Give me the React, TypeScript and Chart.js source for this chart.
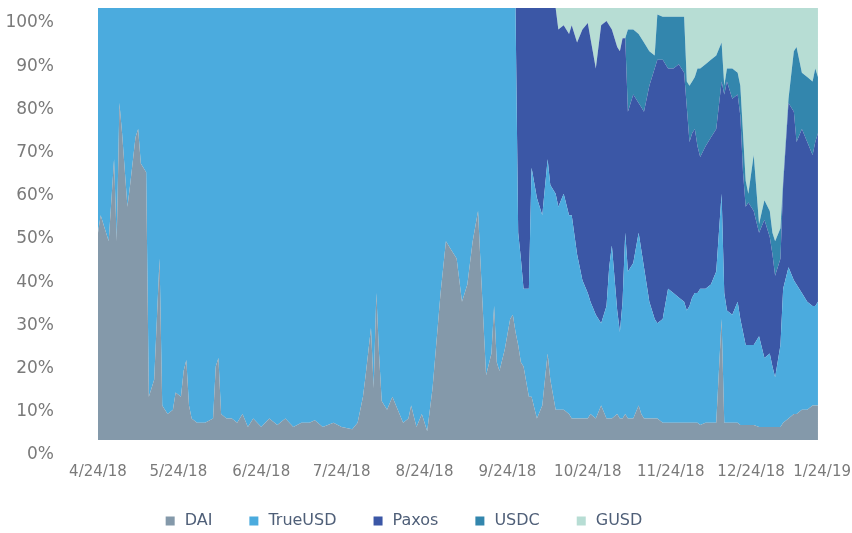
import React, { useEffect, useRef } from "react";
import { Chart, registerables } from "chart.js";

Chart.register(...registerables);

// Days since 4/24/18 for each sample
const dayOffsets = [
  0, 1, 2, 4, 6, 7, 8, 9, 11, 12,
  14, 15, 16, 18, 19, 20, 21, 22, 23, 24,
  26, 28, 29, 31, 32, 33, 34, 35, 37, 40,
  43, 44, 45, 46, 48, 50, 52, 54, 56, 58,
  61, 64, 67, 70, 73, 76, 79, 81, 84, 88,
  91, 95, 97, 99, 100, 102, 103, 104, 105, 106,
  108, 110, 112, 114, 116, 117, 119, 121, 123, 125,
  128, 130, 132, 134, 136, 138, 140, 142, 143, 145,
  147, 148, 149, 150, 152, 154, 155, 156,
  157, 158, 159, 161, 162, 164, 166, 168, 169, 171,
  172, 174, 176, 177, 179, 181, 183, 184, 186, 188,
  190, 191, 192, 194, 195, 196, 197, 198, 200, 202,
  203, 204, 206, 208, 209, 211, 213, 215, 217, 219,
  220, 221, 222, 223, 224, 225, 227, 229, 231, 233,
  234, 235, 237, 239, 240, 241, 242, 243, 245, 247,
  249, 251, 252, 253, 255, 256, 258, 260, 261, 263,
  265, 267, 268, 269,
];

// Share of each stablecoin (%)
const dai = [
  48, 52, 50, 46, 65, 46, 78, 71, 54, 59,
  70, 72, 64, 62, 10, 12, 14, 28, 42, 8,
  6, 7, 11, 10, 16, 18.5, 8, 5, 4, 4,
  5, 17, 19, 6, 5, 5, 4, 6, 3, 5,
  3, 5, 3.5, 5, 3, 4, 4, 4.6, 3, 4,
  3, 2.5, 4, 10, 15, 26, 12, 34, 20, 9,
  7, 10, 7, 4, 5, 8, 3, 6, 2, 12,
  34, 46, 44, 42, 32, 36, 46, 53, 40, 15,
  20, 31, 18, 16, 21, 28, 29, 25,
  22, 18, 17, 10, 10, 5, 8, 20, 14, 7,
  7, 7, 6, 5, 5, 5, 5, 6, 5, 8,
  5, 5, 5, 6, 5, 5, 6, 5, 5, 8,
  6, 5, 5, 5, 5, 4, 4, 4, 4, 4,
  4, 4, 4, 4, 4, 3.5, 4, 4, 4, 28,
  4, 4, 4, 4, 3.5, 3.5, 3.5, 3.5, 3.5, 3,
  3, 3, 3, 3, 3, 4, 5, 6, 6, 7,
  7, 8, 8, 8,
];

const trueUsd = [
  52, 48, 50, 54, 35, 54, 22, 29, 46, 41,
  30, 28, 36, 38, 90, 88, 86, 72, 58, 92,
  94, 93, 89, 90, 84, 81.5, 92, 95, 96, 96,
  95, 83, 81, 94, 95, 95, 96, 94, 97, 95,
  97, 95, 96.5, 95, 97, 96, 96, 95.4, 97, 96,
  97, 97.5, 96, 90, 85, 74, 88, 66, 80, 91,
  93, 90, 93, 96, 95, 92, 97, 94, 98, 88,
  66, 54, 56, 58, 68, 64, 54, 47, 60, 85,
  80, 69, 82, 84, 79, 72, 71, 75,
  26, 24, 18, 25, 53, 51, 44, 45, 45, 50,
  47, 50, 46, 47, 38, 32, 29, 26, 24, 19,
  26, 35, 40, 24, 20, 27, 42, 34, 36, 40,
  38, 35, 27, 23, 22, 24, 31, 30, 29, 28,
  26, 27, 29, 30, 30, 31.5, 31, 32, 35, 29,
  30, 26, 25, 28, 24.5, 21.5, 18.5, 18.5, 18.5, 21,
  16, 17, 14, 11.5, 19, 31, 35, 31, 30, 27,
  25, 23, 23, 24,
];

const paxos = [
  0, 0, 0, 0, 0, 0, 0, 0, 0, 0,
  0, 0, 0, 0, 0, 0, 0, 0, 0, 0,
  0, 0, 0, 0, 0, 0, 0, 0, 0, 0,
  0, 0, 0, 0, 0, 0, 0, 0, 0, 0,
  0, 0, 0, 0, 0, 0, 0, 0, 0, 0,
  0, 0, 0, 0, 0, 0, 0, 0, 0, 0,
  0, 0, 0, 0, 0, 0, 0, 0, 0, 0,
  0, 0, 0, 0, 0, 0, 0, 0, 0, 0,
  0, 0, 0, 0, 0, 0, 0, 0,
  52, 58, 65, 65, 37, 44, 48, 35, 41, 43,
  41, 39, 42, 44, 49, 58, 62.5, 61, 57, 69,
  66, 56, 50, 61, 65, 61, 45, 37, 39, 30,
  33, 36, 50, 58, 61, 60, 51, 52, 54, 53,
  47, 38, 38, 38, 34, 30.5, 33, 34, 33, 26,
  46, 53, 50, 48, 47, 37, 32, 33, 31, 24,
  32, 27, 26, 23.5, 20, 24, 38, 39, 33, 38,
  37, 35, 38, 39,
];

const usdc = [
  0, 0, 0, 0, 0, 0, 0, 0, 0, 0,
  0, 0, 0, 0, 0, 0, 0, 0, 0, 0,
  0, 0, 0, 0, 0, 0, 0, 0, 0, 0,
  0, 0, 0, 0, 0, 0, 0, 0, 0, 0,
  0, 0, 0, 0, 0, 0, 0, 0, 0, 0,
  0, 0, 0, 0, 0, 0, 0, 0, 0, 0,
  0, 0, 0, 0, 0, 0, 0, 0, 0, 0,
  0, 0, 0, 0, 0, 0, 0, 0, 0, 0,
  0, 0, 0, 0, 0, 0, 0, 0,
  0, 0, 0, 0, 0, 0, 0, 0, 0, 0,
  0, 0, 0, 0, 0, 0, 0, 0, 0, 0,
  0, 0, 0, 0, 0, 0, 0, 19, 15, 16,
  16, 16, 8, 3, 10.5, 10, 12, 12, 11, 13,
  6, 13, 12, 12, 18, 20.5, 19, 18, 17, 9,
  2, 3, 7, 5, 7, 9, 6, 2, 13, 2,
  4.5, 6, 5, 8, 7, 1, 1, 14, 22, 13,
  15, 17, 17, 13,
];

const gusd = [
  0, 0, 0, 0, 0, 0, 0, 0, 0, 0,
  0, 0, 0, 0, 0, 0, 0, 0, 0, 0,
  0, 0, 0, 0, 0, 0, 0, 0, 0, 0,
  0, 0, 0, 0, 0, 0, 0, 0, 0, 0,
  0, 0, 0, 0, 0, 0, 0, 0, 0, 0,
  0, 0, 0, 0, 0, 0, 0, 0, 0, 0,
  0, 0, 0, 0, 0, 0, 0, 0, 0, 0,
  0, 0, 0, 0, 0, 0, 0, 0, 0, 0,
  0, 0, 0, 0, 0, 0, 0, 0,
  0, 0, 0, 0, 0, 0, 0, 0, 0, 0,
  5, 4, 6, 4, 8, 5, 3.5, 7, 14, 4,
  3, 4, 5, 9, 10, 7, 7, 5, 5, 6,
  7, 8, 10, 11, 1.5, 2, 2, 2, 2, 2,
  17, 18, 17, 16, 14, 14, 13, 12, 11, 8,
  18, 14, 14, 15, 18, 29, 40, 43, 34, 50,
  44.5, 47, 52, 54, 51, 40, 21, 10, 9, 15,
  16, 17, 14, 16,
];

const seriesNames = ["DAI", "TrueUSD", "Paxos", "USDC", "GUSD"];
const seriesColors = ["#8499AA", "#4BABDE", "#3B57A6", "#3386AD", "#B7DDD4"];

const tickDays = [0, 30, 61, 91, 122, 153, 183, 214, 244, 275];
const tickLabels = [
  "4/24/18", "5/24/18", "6/24/18", "7/24/18", "8/24/18",
  "9/24/18", "10/24/18", "11/24/18", "12/24/18", "1/24/19",
];

const FONT = "'DejaVu Sans', sans-serif";

const legendPlugin = {
  id: "bottomLegend",
  afterDraw(chart: any) {
    const ctx = chart.ctx as CanvasRenderingContext2D;
    ctx.save();
    ctx.font = `16px ${FONT}`;
    ctx.textBaseline = "middle";
    ctx.textAlign = "left";
    const box = 9;
    const gap = 10;
    const itemGap = 37;
    const widths = seriesNames.map((n) => ctx.measureText(n).width);
    const total =
      widths.reduce((a, w) => a + box + gap + w, 0) + itemGap * (seriesNames.length - 1);
    let x = 404 - total / 2;
    const y = 521;
    seriesNames.forEach((name, i) => {
      ctx.fillStyle = seriesColors[i];
      ctx.fillRect(x, y - box / 2, box, box);
      ctx.fillStyle = "#4f5f78";
      ctx.fillText(name, x + box + gap, y);
      x += box + gap + widths[i] + itemGap;
    });
    ctx.restore();
  },
};

export default function App() {
  const canvasRef = useRef<HTMLCanvasElement | null>(null);

  useEffect(() => {
    if (!canvasRef.current) return;
    const series = [dai, trueUsd, paxos, usdc, gusd];
    const chart = new Chart(canvasRef.current, {
      type: "line",
      data: {
        datasets: series.map((values, i) => ({
          label: seriesNames[i],
          data: dayOffsets.map((d, j) => ({ x: d, y: values[j] })),
          backgroundColor: seriesColors[i],
          borderColor: seriesColors[i],
          borderWidth: 0,
          pointRadius: 0,
          pointHoverRadius: 0,
          tension: 0,
          fill: i === 0 ? "origin" : "-1",
        })),
      },
      options: {
        responsive: true,
        maintainAspectRatio: false,
        animation: false,
        events: [],
        layout: { padding: { left: 0, top: 8, right: 18, bottom: 43 } },
        plugins: {
          legend: { display: false },
          tooltip: { enabled: false },
        },
        scales: {
          x: {
            type: "linear",
            min: 0,
            max: 275,
            grid: { display: false },
            border: { display: false },
            afterBuildTicks: (scale: any) => {
              scale.ticks = tickDays.map((v) => ({ value: v }));
            },
            afterFit: (scale: any) => {
              scale.height = 50;
              scale.paddingLeft = 0;
              scale.paddingRight = 0;
            },
            ticks: {
              autoSkip: false,
              maxRotation: 0,
              minRotation: 0,
              padding: 15,
              color: "#7a7a7a",
              font: { family: FONT, size: 15 },
              callback: (_v: any, i: number) =>
                i === tickLabels.length - 1 ? tickLabels[i] + "     " : tickLabels[i],
            },
          },
          y: {
            type: "linear",
            stacked: true,
            min: 0,
            max: 100,
            grid: { display: false },
            border: { display: false },
            afterFit: (scale: any) => {
              scale.width = 98;
              scale.paddingTop = 0;
              scale.paddingBottom = 0;
            },
            ticks: {
              stepSize: 10,
              padding: 36,
              labelOffset: 15,
              color: "#7a7a7a",
              font: { family: FONT, size: 17 },
              callback: (v: any) => `${v}%`,
            },
          },
        },
      },
      plugins: [legendPlugin],
    });
    return () => chart.destroy();
  }, []);

  return (
    <div style={{ position: "absolute", left: 0, top: 0, width: 852, height: 533 }}>
      <canvas ref={canvasRef} />
    </div>
  );
}
